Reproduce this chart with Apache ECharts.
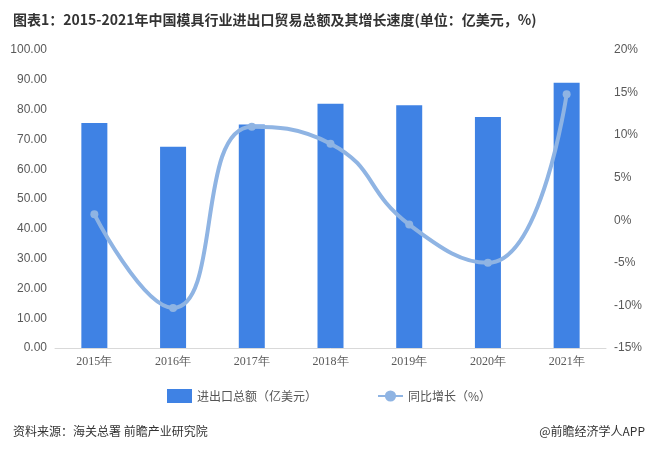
<!DOCTYPE html>
<html><head><meta charset="utf-8">
<script src="https://cdn.jsdelivr.net/npm/echarts@6/dist/echarts.min.js"></script>
<style>body{margin:0;background:#fff}#c{width:658px;height:450px}</style>
</head><body><div id="c"></div>
<script>
const categories=['2015年','2016年','2017年','2018年','2019年','2020年','2021年'];
const totals=[75.5,67.5,75.0,82.0,81.5,77.5,89.0];
const growth=[0.7,-10.3,11.0,9.0,-0.5,-5.0,14.8];
const chart=echarts.init(document.getElementById('c'));
const f='"Noto Sans CJK SC", sans-serif';
chart.setOption({
 animation:false,
 title:[{text:'图表1：2015-2021年中国模具行业进出口贸易总额及其增长速度(单位：亿美元，%)',left:8,top:8,textStyle:{fontSize:14,fontWeight:'bold',color:'#333',fontFamily:f}},
  {text:'资料来源：海关总署 前瞻产业研究院',left:8,top:420,textStyle:{fontSize:12,fontWeight:'normal',color:'#333',fontFamily:f}},
  {text:'@前瞻经济学人APP',right:8,top:420,textStyle:{fontSize:12,fontWeight:'normal',color:'#333',fontFamily:f}}],
 legend:{bottom:42,itemGap:60,textStyle:{fontSize:12,color:'#555',fontFamily:f},
  data:[{name:'进出口总额（亿美元）',icon:'rect'},{name:'同比增长（%）'}]},
 grid:{left:55,right:52,top:50,bottom:102},
 xAxis:{type:'category',data:categories,axisTick:{show:false},axisLine:{lineStyle:{color:'#d9d9d9'}},
  axisLabel:{color:'#595959',fontSize:12,fontFamily:'"Liberation Serif", serif'}},
 yAxis:[{type:'value',min:0,max:100,interval:10,axisLabel:{formatter:v=>v.toFixed(2),color:'#595959',fontSize:12},splitLine:{show:false}},
  {type:'value',min:-15,max:20,interval:5,axisLabel:{formatter:'{value}%',color:'#595959',fontSize:12},splitLine:{show:false}}],
 series:[{name:'进出口总额（亿美元）',type:'bar',data:totals,barWidth:26,itemStyle:{color:'#3f82e4'}},
  {name:'同比增长（%）',type:'line',yAxisIndex:1,data:growth,smooth:true,symbol:'circle',symbolSize:8,
   lineStyle:{width:4,color:'#8fb4e3'},itemStyle:{color:'#8fb4e3'}}]
});
</script></body></html>
